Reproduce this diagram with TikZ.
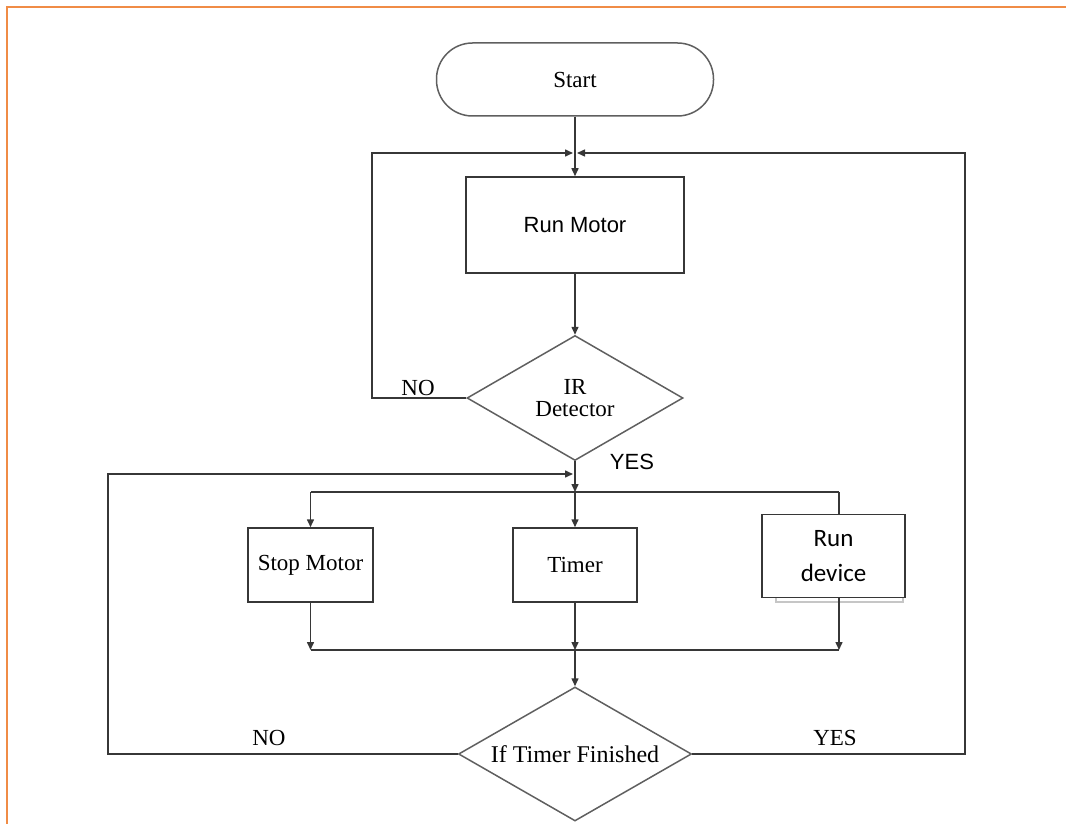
\documentclass[tikz,border=0pt]{standalone}
\usepackage{fontspec}
\setmainfont{Liberation Serif}
\newfontfamily\arialf{Liberation Sans}
\newfontfamily\calibrif{Carlito}
\usetikzlibrary{shapes.geometric,arrows.meta}
\definecolor{borderorange}{RGB}{240,140,70}
\definecolor{linegray}{RGB}{55,55,55}
\begin{document}
\begin{tikzpicture}[x=1pt,y=-1pt,
  line width=1.5pt,
  conn/.style={draw=linegray},
  arr/.style={draw=linegray,-{Triangle[length=8pt,width=7pt]}},
  box/.style={draw=linegray,rectangle,inner sep=0pt},
  dec/.style={draw=linegray!80,diamond,inner sep=0pt,align=center},
  lbl/.style={inner sep=0pt},
  txt/.style={font=\fontsize{23}{26}\selectfont}
]
\useasboundingbox (0,0) rectangle (1066,824);
% orange border
\draw[borderorange,line width=2.5pt] (7,824) -- (7,7) -- (1066,7);

% nodes
\node[box,draw=linegray!80,rounded corners=36pt,minimum width=277pt,minimum height=73pt,txt] (start) at (575,79.5) {Start};
\node[box,minimum width=218pt,minimum height=96pt,font=\arialf\fontsize{22}{25}\selectfont] (run) at (575,225) {Run Motor};
\node[dec,minimum width=216pt,minimum height=125pt,shape aspect=1.7,font=\fontsize{23}{21.5}\selectfont] (ir) at (575,398) {IR\\Detector};
\node[box,minimum width=125pt,minimum height=74pt,txt] (stop) at (310.5,565) {Stop Motor};
\node[box,minimum width=124pt,minimum height=74pt,txt] (timer) at (575,565) {Timer};
\draw[gray!45,line width=1.5pt] (776,598) -- (776,602) -- (903,602) -- (903,598);
\node[box,fill=white,minimum width=143pt,minimum height=83pt,align=center,font=\calibrif\fontsize{25}{35}\selectfont] (dev) at (833.5,556) {Run\\device};
\node[dec,minimum width=233pt,minimum height=134pt,shape aspect=1.74,font=\fontsize{24}{26}\selectfont] (fin) at (575,754) {If Timer Finished};

% labels
\node[lbl,txt] (no1) at (418,388) {NO};
\node[lbl,font=\arialf\fontsize{22}{25}\selectfont] (yes1) at (632,462) {YES};
\node[lbl,txt] (no2) at (269,738) {NO};
\node[lbl,txt] (yes2) at (835,738) {YES};

% coordinates
\coordinate (jL) at (573,153);
\coordinate (jR) at (577,153);
\coordinate (cL1) at (372,153);
\coordinate (cR1) at (965,153);
\coordinate (b0) at (575,492);
\coordinate (bS) at (310.5,492);
\coordinate (bD) at (839,492);
\coordinate (mS) at (310.5,650);
\coordinate (mT) at (575,650);
\coordinate (mD) at (839,650);
\coordinate (lp) at (108,474);
\coordinate (lpEnd) at (573,474);

% connectors
\draw[arr] (start.south) -- (run.north);
\draw[arr] (ir.west) -| (cL1) -- (jL);
\draw[arr] (fin.east) -| (cR1) -- (jR);
\draw[arr] (run.south) -- (ir.north);
\draw[arr] (ir.south) -- (b0);
\draw[arr] (fin.west) -| (lp) -- (lpEnd);
\draw[conn] (bS) -- (bD);
\draw[arr] (bS) -- (stop.north);
\draw[arr] (b0) -- (timer.north);
\draw[conn] (bD) -- (bD |- dev.north);
\draw[arr] (stop.south) -- (mS);
\draw[arr] (timer.south) -- (mT);
\draw[arr] (dev.south -| bD) -- (mD);
\draw[conn] (mS) -- (mD);
\draw[arr] (mT) -- (fin.north);
\end{tikzpicture}
\end{document}
